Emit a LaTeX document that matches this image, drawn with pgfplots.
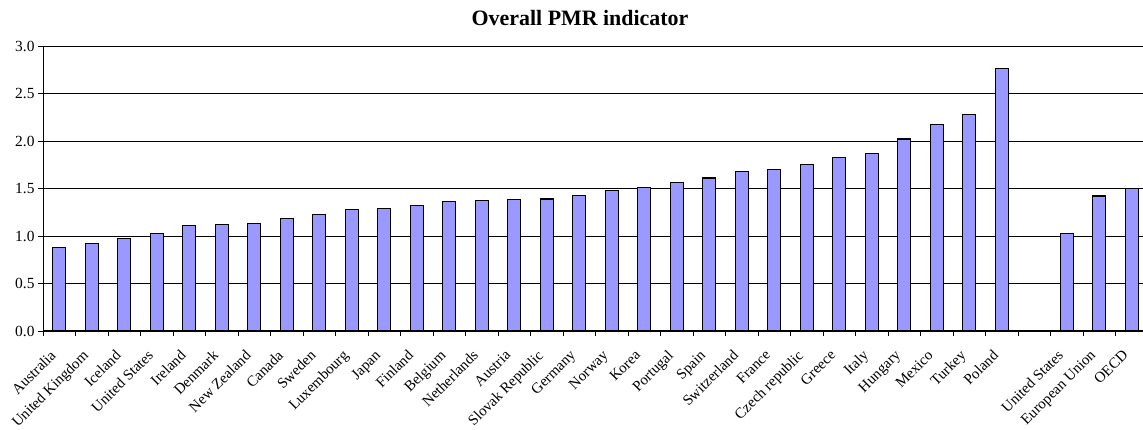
\documentclass[border=0pt]{standalone}
\usepackage{pgfplots}
\pgfplotsset{compat=1.18}
\usepackage{fontspec}
\setmainfont{Liberation Serif}
\definecolor{barblue}{HTML}{9999FF}

\begin{document}
\begin{tikzpicture}
\begin{axis}[
  at={(43bp,99bp)}, anchor=south west,
  scale only axis, width=1105bp, height=285bp,
  xmin=-0.5, xmax=33.5, ymin=0, ymax=3,
  axis lines*=left, axis line style={-, black, line width=1bp},
  clip=false,
  tick align=outside,
  major tick length=5bp,
  tick style={black, line width=0.8bp},
  xtick={-0.5,0.5,...,33.5},
  xticklabels={},
  extra x ticks={0,1,2,3,4,5,6,7,8,9,10,11,12,13,14,15,16,17,18,19,20,21,22,23,24,25,26,27,28,29,31,32,33},
  extra x tick labels={Australia,United Kingdom,Iceland,United States,Ireland,Denmark,New Zealand,Canada,Sweden,Luxembourg,Japan,Finland,Belgium,Netherlands,Austria,Slovak Republic,Germany,Norway,Korea,Portugal,Spain,Switzerland,France,Czech republic,Greece,Italy,Hungary,Mexico,Turkey,Poland,United States,European Union,OECD},
  extra x tick style={tick style={draw=none}},
  xticklabel style={xshift=-10bp, yshift=-11.5bp, rotate=45, anchor=north east, inner sep=1pt, font=\fontsize{15}{18}\selectfont},
  ytick={0,0.5,...,3},
  ymajorgrids,
  grid style={black, line width=0.8bp},
  /pgf/number format/assume math mode=true,
  yticklabel style={font=\fontsize{15.5}{18}\selectfont, /pgf/number format/.cd, fixed, fixed zerofill, precision=1},
]
\addplot[ybar, bar width=0.4, bar shift=0pt, fill=barblue, draw=black, line width=1.2bp] coordinates {
(0,0.88) (1,0.92) (2,0.97) (3,1.03) (4,1.11) (5,1.12) (6,1.13) (7,1.18) (8,1.23) (9,1.28)
(10,1.29) (11,1.32) (12,1.36) (13,1.37) (14,1.38) (15,1.39) (16,1.43) (17,1.48) (18,1.51) (19,1.56)
(20,1.61) (21,1.68) (22,1.70) (23,1.75) (24,1.83) (25,1.87) (26,2.02) (27,2.17) (28,2.28) (29,2.76)
(31,1.03) (32,1.42) (33,1.50)
};
\end{axis}
\node[font=\bfseries\fontsize{22}{24}\selectfont] at (580bp,412bp) {Overall PMR indicator};
\pgfresetboundingbox
\path[use as bounding box] (0,0) rectangle (1143bp,430bp);
\end{tikzpicture}
\end{document}
